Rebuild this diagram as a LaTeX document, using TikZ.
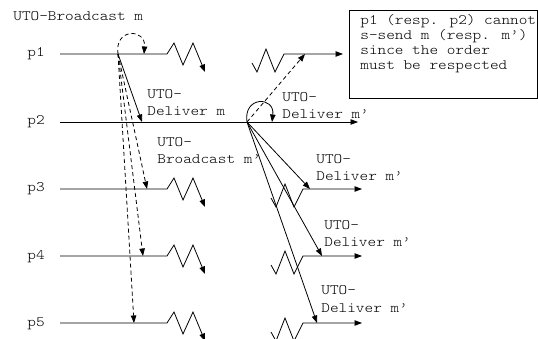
\documentclass[tikz,border=0pt]{standalone}
\usepackage{fontspec}
\newfontfamily\courfont[FakeStretch=1.143]{lmmonolt10-regular.otf}
\usetikzlibrary{arrows.meta}
\begin{document}
\begin{tikzpicture}[x=1pt, y=-1pt, line width=0.8pt,
  arr/.style={-{Triangle[length=7.5pt,width=5.5pt]}},
  dmsg/.style={arr, dash pattern=on 4pt off 3pt},
  lbl/.style={font=\courfont\fontsize{14.4}{17.5}\selectfont, inner sep=0pt, anchor=base west, align=left},
  note/.style={font=\courfont\fontsize{14.4}{15.3}\selectfont, inner sep=0pt, anchor=base west, align=left}]
\useasboundingbox (0,0) rectangle (538,339);

% process names
\node[lbl] (n1) at (27,57) {p1};
\node[lbl] (n2) at (27,125) {p2};
\node[lbl] (n3) at (27,192) {p3};
\node[lbl] (n4) at (27,259) {p4};
\node[lbl] (n5) at (27,326) {p5};

% anchor points of the process lines
\coordinate (a1) at (60,54);  \coordinate (b1) at (167,54);
\coordinate (a2) at (60,122); \coordinate (b2) at (358,122);
\coordinate (a3) at (60,189); \coordinate (b3) at (167,189);
\coordinate (a4) at (60,256); \coordinate (b4) at (167,256);
\coordinate (a5) at (60,323); \coordinate (b5) at (167,323);
% restarting segments (after the crash)
\coordinate (c1) at (252,63);  \coordinate (d1) at (284,54);  \coordinate (e1) at (343,54);
\coordinate (c3) at (271,198); \coordinate (d3) at (303,189); \coordinate (e3) at (362,189);
\coordinate (c4) at (271,265); \coordinate (d4) at (303,256); \coordinate (e4) at (362,256);
\coordinate (c5) at (271,332); \coordinate (d5) at (303,323); \coordinate (e5) at (362,323);

% process lines ending with a crash zigzag
\foreach \i in {1,3,4,5}{
  \draw[arr] (a\i) -- (b\i) -- ++(7,-11) -- ++(9,22) -- ++(10,-22) -- ++(12,29);
}
\draw[arr] (a2) -- (b2);
% recovered parts
\foreach \i in {1,3,4,5}{
  \draw[arr] (c\i) -- ++(5,9) -- ++(9,-23) -- ++(9,23) -- (d\i) -- (e\i);
}

% broadcast of m by p1
\coordinate (s1) at (118,54);
\coordinate (l1) at (144,54);
\coordinate (r12) at (142,122);
\coordinate (r13) at (147,189);
\coordinate (r14) at (143,256);
\coordinate (r15) at (134,323);
\draw[dmsg] (s1) .. controls (114,28) and (146,28) .. (l1);
\draw[arr] (s1) -- (r12);
\draw[dmsg] (s1) -- (r13);
\draw[dmsg] (s1) -- (r14);
\draw[dmsg] (s1) -- (r15);

% broadcast of m' by p2
\coordinate (s2) at (247,122);
\coordinate (l2) at (272,122);
\coordinate (r21) at (305,54);
\coordinate (r23) at (310,189);
\coordinate (r24) at (322,256);
\coordinate (r25) at (317,323);
\draw[arr] (s2) .. controls (243,96) and (275,96) .. (l2);
\draw[dmsg] (s2) -- (r21);
\draw[arr] (s2) -- (r23);
\draw[arr] (s2) -- (r24);
\draw[arr] (s2) -- (r25);

% event labels (anchored at the baseline of their last line)
\node[lbl] (t0) at (13,21) {UTO-Broadcast m};
\node[lbl] (t1) at (147,116) {UTO-\\Deliver m};
\node[lbl] (t2) at (157,164) {UTO-\\Broadcast m’};
\node[lbl] (t3) at (282,119) {UTO-\\Deliver m’};
\node[lbl] (t4) at (316,181) {UTO-\\Deliver m’};
\node[lbl] (t5) at (324,247) {UTO-\\Deliver m’};
\node[lbl] (t6) at (321,312) {UTO-\\Deliver m’};

% comment box
\node[draw, inner sep=0pt, minimum width=188pt, minimum height=88pt, anchor=north west] (box) at (349,10) {};
\node[note] (boxtext) at (360,70) {p1 (resp. p2) cannot\\s-send m (resp. m’)\\since the order\\must be respected};
\end{tikzpicture}
\end{document}
